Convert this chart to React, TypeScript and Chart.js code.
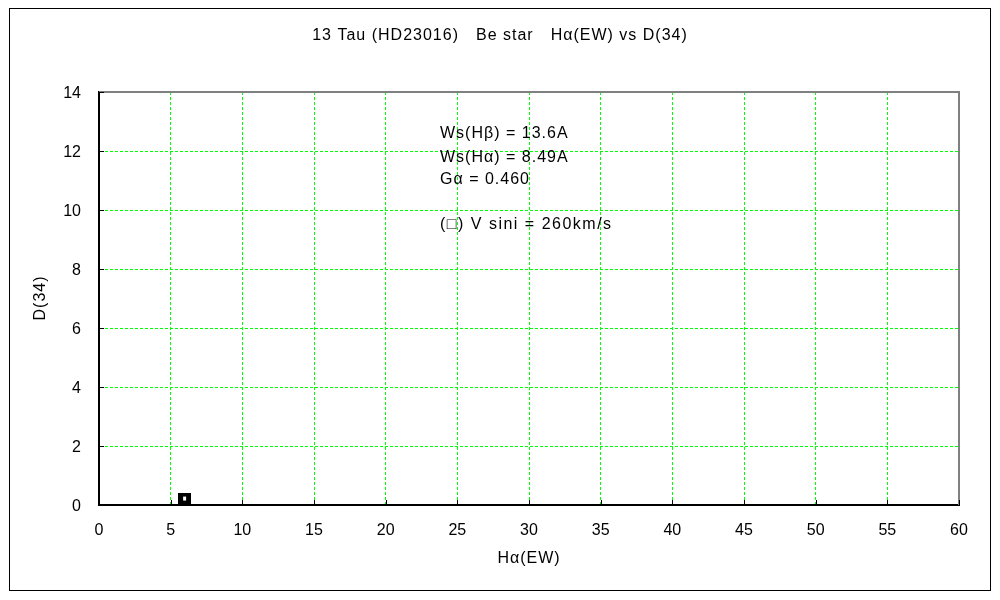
import React, { useEffect, useRef } from "react";
import { Chart, registerables } from "chart.js";

Chart.register(...registerables);

const xValues = [5.97];
const yValues = [0.22];
const xTicks = [0, 5, 10, 15, 20, 25, 30, 35, 40, 45, 50, 55, 60];
const yTicks = [0, 2, 4, 6, 8, 10, 12, 14];
const titleText = "13 Tau (HD23016)\u3000Be star\u3000H\u03b1(EW) vs D(34)";
const xTitle = "H\u03b1(EW)";
const yTitle = "D(34)";
const notes = [
  "Ws(H\u03b2) = 13.6A",
  "Ws(H\u03b1) = 8.49A",
  "G\u03b1 = 0.460",
  "(\u25a1) V sini = 260km/s",
];

const FONT = "'Liberation Sans', 'Noto Sans CJK JP', 'DejaVu Sans', sans-serif";

function makeMarker(): HTMLCanvasElement {
  const c = document.createElement("canvas");
  c.width = 13;
  c.height = 12;
  const g = c.getContext("2d")!;
  g.fillStyle = "#000";
  g.fillRect(0, 0, 13, 12);
  g.fillStyle = "#fff";
  g.fillRect(5, 4, 3, 4);
  return c;
}

const decorPlugin = {
  id: "decor",
  beforeDraw(chart: any) {
    const ctx = chart.ctx;
    ctx.save();
    ctx.fillStyle = "#fff";
    ctx.fillRect(0, 0, chart.width, chart.height);
    ctx.restore();
  },
  afterDraw(chart: any) {
    const ctx = chart.ctx;
    const a = chart.chartArea;
    const xs = chart.scales.x;
    const ys = chart.scales.y;
    ctx.save();
    // outer frame
    ctx.strokeStyle = "#000";
    ctx.lineWidth = 1;
    ctx.strokeRect(9.5, 8.5, 981, 582);
    // top and right grey border
    ctx.strokeStyle = "#808080";
    ctx.lineWidth = 2;
    ctx.beginPath();
    ctx.moveTo(a.left, a.top);
    ctx.lineTo(a.right, a.top);
    ctx.lineTo(a.right, a.bottom);
    ctx.stroke();
    // inward tick marks
    ctx.strokeStyle = "#000";
    ctx.lineWidth = 1;
    ctx.beginPath();
    yTicks.forEach((v) => {
      const py = Math.round(ys.getPixelForValue(v)) + 0.5;
      ctx.moveTo(a.left, py);
      ctx.lineTo(a.left + 5, py);
    });
    xTicks.forEach((v) => {
      const px = Math.round(xs.getPixelForValue(v)) + 0.5;
      ctx.moveTo(px, a.bottom);
      ctx.lineTo(px, a.bottom - 5);
    });
    ctx.stroke();
    // title
    ctx.fillStyle = "#000";
    ctx.font = `16px ${FONT}`;
    ctx.textAlign = "center";
    ctx.textBaseline = "middle";
    (ctx as any).letterSpacing = "1px";
    ctx.fillText(titleText, 500, 36);
    // x title
    ctx.fillText(xTitle, 529, 559);
    // y title
    ctx.save();
    ctx.translate(41, 298);
    ctx.rotate(-Math.PI / 2);
    ctx.fillText(yTitle, 0, 0);
    ctx.restore();
    // notes
    ctx.textAlign = "left";
    const noteY = [134, 158, 180, 225];
    notes.forEach((t, i) => {
      (ctx as any).letterSpacing = i === 3 ? "1.5px" : "1px";
      ctx.fillText(t, 440, noteY[i]);
    });
    ctx.restore();
  },
};

export default function App() {
  const ref = useRef<HTMLCanvasElement>(null);
  useEffect(() => {
    const marker = makeMarker();
    const chart = new Chart(ref.current!, {
      type: "scatter",
      data: {
        datasets: [
          {
            data: xValues.map((x, i) => ({ x, y: yValues[i] })),
            pointStyle: marker as any,
            pointRadius: 6,
            backgroundColor: "#000",
            borderColor: "#000",
          },
        ],
      },
      options: {
        animation: false,
        responsive: false,
        maintainAspectRatio: false,
        layout: { padding: { left: 0, top: 92, right: 41, bottom: 0 } },
        plugins: {
          legend: { display: false },
          title: { display: false },
          tooltip: { enabled: false },
        },
        scales: {
          x: {
            type: "linear",
            min: 0,
            max: 60,
            afterFit: (s: any) => {
              s.height = 95;
            },
            afterBuildTicks: (s: any) => {
              s.ticks = xTicks.map((v) => ({ value: v }));
            },
            ticks: {
              color: "#000",
              font: { family: FONT, size: 16 },
              padding: 16,
              maxRotation: 0,
            },
            grid: {
              color: "#00ff00",
              lineWidth: 1,
              drawTicks: false,
            },
            border: { color: "#000", width: 2, dash: [3, 2] },
          },
          y: {
            type: "linear",
            min: 0,
            max: 14,
            afterFit: (s: any) => {
              s.width = 99;
            },
            afterBuildTicks: (s: any) => {
              s.ticks = yTicks.map((v) => ({ value: v }));
            },
            ticks: {
              color: "#000",
              font: { family: FONT, size: 16 },
              padding: 18,
              labelOffset: 2,
            },
            grid: {
              color: "#00ff00",
              lineWidth: 1,
              drawTicks: false,
            },
            border: { color: "#000", width: 2, dash: [3, 2] },
          },
        },
      } as any,
      plugins: [decorPlugin],
    });
    return () => chart.destroy();
  }, []);
  return (
    <div style={{ position: "absolute", left: 0, top: 0, width: 1000, height: 600 }}>
      <canvas ref={ref} width={1000} height={600} />
    </div>
  );
}
